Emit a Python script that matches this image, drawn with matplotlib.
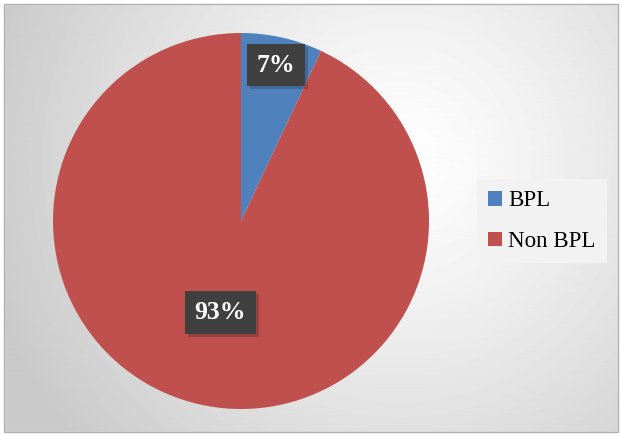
import numpy as np
import matplotlib.pyplot as plt
import matplotlib.patheffects as pe
from matplotlib.patches import Rectangle

labels = ['BPL', 'Non BPL']
shares = [7, 93]
colors = ['#4f81bd', '#c0504d']
label_dist = [0.85, 0.5]

plt.rcParams['font.family'] = ['Liberation Serif', 'DejaVu Serif']

fig = plt.figure(figsize=(6.22, 4.36), dpi=100)
W, H = 622, 436

# radial grey background inside the chart frame
bg = fig.add_axes([0, 0, 1, 1])
yy, xx = np.mgrid[0:H, 0:W]
r = np.hypot(xx - 400, yy - 160) / 430.0
shade = 1.0 - 0.21 * np.clip(r, 0, 1) ** 1.2
bg.imshow(shade, cmap='gray', vmin=0, vmax=1, extent=[0, W, H, 0], aspect='auto')
bg.add_patch(Rectangle((0, 0), W, 4, color='white'))
bg.add_patch(Rectangle((0, 432), W, 4, color='white'))
bg.add_patch(Rectangle((0, 0), 4, H, color='white'))
bg.add_patch(Rectangle((618, 0), 4, H, color='white'))
bg.add_patch(Rectangle((4, 4), 614, 428, fill=False, edgecolor='#b0b0b0', lw=1))
bg.set_xlim(0, W)
bg.set_ylim(H, 0)
bg.axis('off')

# pie
ax = fig.add_axes([53 / W, (H - 409) / H, 376 / W, 376 / H])
wedges, _ = ax.pie(shares, colors=colors, startangle=90, counterclock=False,
                   radius=1, wedgeprops=dict(linewidth=0))
ax.set_xlim(-1, 1)
ax.set_ylim(-1, 1)
ax.set_aspect('equal')
ax.axis('off')

for w, val, d in zip(wedges, shares, label_dist):
    mid = np.deg2rad((w.theta1 + w.theta2) / 2)
    x, y = d * np.cos(mid), d * np.sin(mid)
    t = ax.text(x, y, f'{val}%', ha='center', va='center', fontsize=18.5,
                fontweight='bold', color='white',
                bbox=dict(boxstyle='square,pad=0.38', facecolor='#404040',
                          edgecolor='none'))
    t.get_bbox_patch().set_path_effects(
        [pe.SimplePatchShadow(offset=(2, -2), alpha=0.22), pe.Normal()])

leg = fig.legend(wedges, labels, loc='upper left',
                 bbox_to_anchor=(477 / W, 1 - 179 / H), fontsize=16.5,
                 frameon=True, fancybox=False, facecolor='#f2f2f2',
                 edgecolor='none', framealpha=1, handlelength=0.6,
                 handleheight=0.6, handletextpad=0.25, labelspacing=0.85,
                 borderpad=0.5, borderaxespad=0)

fig.savefig('out.png', dpi=100)
